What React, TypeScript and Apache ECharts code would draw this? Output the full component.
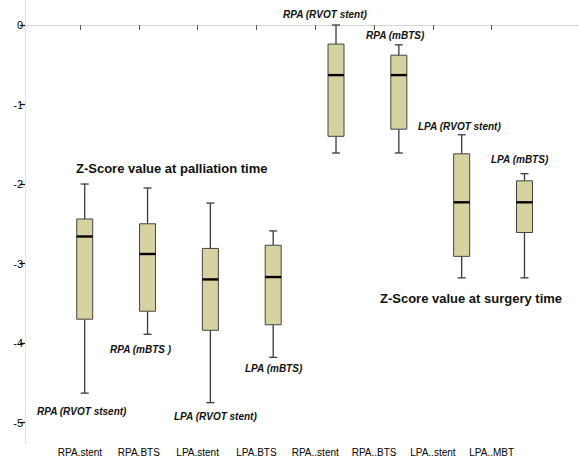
import React, { useEffect, useRef } from "react";
import * as echarts from "echarts";

const boxCategories = ["RPA.stent", "RPA.BTS", "LPA.stent", "LPA.BTS", "RPA..stent", "RPA..BTS", "LPA..stent", "LPA..MBT"];
const tickLabels = ["RPA.stent", "RPA.BTS", "LPA.stent", "LPA.BTS", "RPA..stent", "RPA..BTS", "LPA..stent", "LPA..MBT"];
const whiskerLow = [-4.63, -3.89, -4.75, -4.18, -1.61, -1.61, -3.18, -3.18];
const quartile1 = [-3.70, -3.60, -3.84, -3.77, -1.40, -1.31, -2.91, -2.61];
const medians = [-2.66, -2.88, -3.20, -3.17, -0.63, -0.63, -2.23, -2.23];
const quartile3 = [-2.44, -2.50, -2.81, -2.77, -0.24, -0.38, -1.62, -1.96];
const whiskerHigh = [-2.00, -2.05, -2.24, -2.59, 0.00, -0.25, -1.38, -1.87];
const yTicks = [-5, -4, -3, -2, -1, 0];

const Y_MIN = -5.27;
const Y_MAX = 0.3145;
const FONT = "'Liberation Sans', Arial, sans-serif";

export default function App() {
  const ref = useRef<HTMLDivElement>(null);
  useEffect(() => {
    if (!ref.current) return;
    const chart = echarts.init(ref.current, null, { renderer: "svg" });
    const data = boxCategories.map((_, i) => [i, whiskerLow[i], quartile1[i], medians[i], quartile3[i], whiskerHigh[i]]);
    const boxW = 16;
    const capW = 8;
    const lineColor = "#3a3a3a";
    const ann = (text: string, x: number, y: number, bold = true, italic = true, size = 10) => ({
      type: "text",
      x,
      y,
      style: {
        text,
        fill: "#111",
        fontFamily: FONT,
        fontSize: size,
        fontWeight: bold ? "bold" : "normal",
        fontStyle: italic ? "italic" : "normal",
        textAlign: "left",
        textVerticalAlign: "middle",
      },
      z: 10,
    });
    const option: any = {
      animation: false,
      backgroundColor: "#ffffff",
      grid: [
        { left: 25, right: 0, top: 0, bottom: 22 },
        { left: 53.3, right: 23.1, top: 0, bottom: 22 },
        { left: 50.6, right: 57.9, top: 0, bottom: 22 },
      ],
      xAxis: [
        {
          gridIndex: 0, type: "value", min: 0, max: 1,
          axisLine: { show: true, lineStyle: { color: "#d6d6d6", width: 1 } },
          axisTick: { show: false }, axisLabel: { show: false }, splitLine: { show: false },
        },
        {
          gridIndex: 1, type: "category", data: boxCategories,
          axisLine: { show: false }, axisTick: { show: false }, axisLabel: { show: false }, splitLine: { show: false },
        },
        {
          gridIndex: 2, type: "category", data: tickLabels,
          axisLine: { show: false },
          axisTick: { show: true, alignWithLabel: true, interval: 0, length: 5, lineStyle: { color: "#555" } },
          axisLabel: { show: true, interval: 0, color: "#000", fontSize: 10, fontFamily: FONT, margin: 3 },
          splitLine: { show: false },
        },
      ],
      yAxis: [
        {
          gridIndex: 0, type: "value", min: Y_MIN, max: Y_MAX,
          axisLine: { show: true, lineStyle: { color: "#e2e2e2", width: 1 } },
          axisTick: { show: true, length: 5, customValues: yTicks, lineStyle: { color: "#111", width: 1.3 } },
          axisLabel: {
            show: true, color: "#000", fontSize: 11, fontFamily: FONT, margin: 2,
            customValues: yTicks,
            formatter: (v: number) => (Math.abs(v - Math.round(v)) < 1e-6 ? String(Math.round(v)) : ""),
          },
          splitLine: { show: false },
        },
        { gridIndex: 1, type: "value", min: Y_MIN, max: Y_MAX, show: false },
        { gridIndex: 2, type: "value", min: Y_MIN, max: Y_MAX, show: false },
      ],
      series: [
        {
          type: "custom",
          xAxisIndex: 1,
          yAxisIndex: 1,
          data,
          clip: false,
          renderItem: (params: any, api: any) => {
            const i = api.value(0);
            const cx = api.coord([i, 0])[0];
            const yLo = api.coord([i, api.value(1)])[1];
            const yQ1 = api.coord([i, api.value(2)])[1];
            const yMed = api.coord([i, api.value(3)])[1];
            const yQ3 = api.coord([i, api.value(4)])[1];
            const yHi = api.coord([i, api.value(5)])[1];
            const stroke = { stroke: lineColor, lineWidth: 1.3 };
            return {
              type: "group",
              children: [
                { type: "line", shape: { x1: cx, y1: yHi, x2: cx, y2: yQ3 }, style: stroke },
                { type: "line", shape: { x1: cx, y1: yQ1, x2: cx, y2: yLo }, style: stroke },
                { type: "line", shape: { x1: cx - capW / 2, y1: yHi, x2: cx + capW / 2, y2: yHi }, style: stroke },
                { type: "line", shape: { x1: cx - capW / 2, y1: yLo, x2: cx + capW / 2, y2: yLo }, style: stroke },
                {
                  type: "rect",
                  shape: { x: cx - boxW / 2, y: yQ3, width: boxW, height: yQ1 - yQ3 },
                  style: { fill: "#d6d2a0", stroke: "#444", lineWidth: 1 },
                },
                {
                  type: "line",
                  shape: { x1: cx - boxW / 2, y1: yMed, x2: cx + boxW / 2, y2: yMed },
                  style: { stroke: "#000", lineWidth: 2.4 },
                },
              ],
            };
          },
        },
      ],
      graphic: [
        ann("Z-Score value at palliation time", 76, 168.5, true, false, 13),
        ann("Z-Score value at surgery time", 380, 298.5, true, false, 13),
        ann("RPA (RVOT stsent)", 37, 411),
        ann("RPA (mBTS )", 110, 349),
        ann("LPA (RVOT stent)", 174, 416),
        ann("LPA (mBTS)", 245, 368.5),
        ann("RPA (RVOT stent)", 283, 14.5),
        ann("RPA (mBTS)", 366, 35),
        ann("LPA (RVOT stent)", 418, 126),
        ann("LPA (mBTS)", 491, 159),
      ],
    };
    chart.setOption(option);
    return () => chart.dispose();
  }, []);
  return (
    <div
      ref={ref}
      style={{ position: "fixed", left: 0, top: 0, width: 579, height: 466, background: "#fff" }}
    />
  );
}
